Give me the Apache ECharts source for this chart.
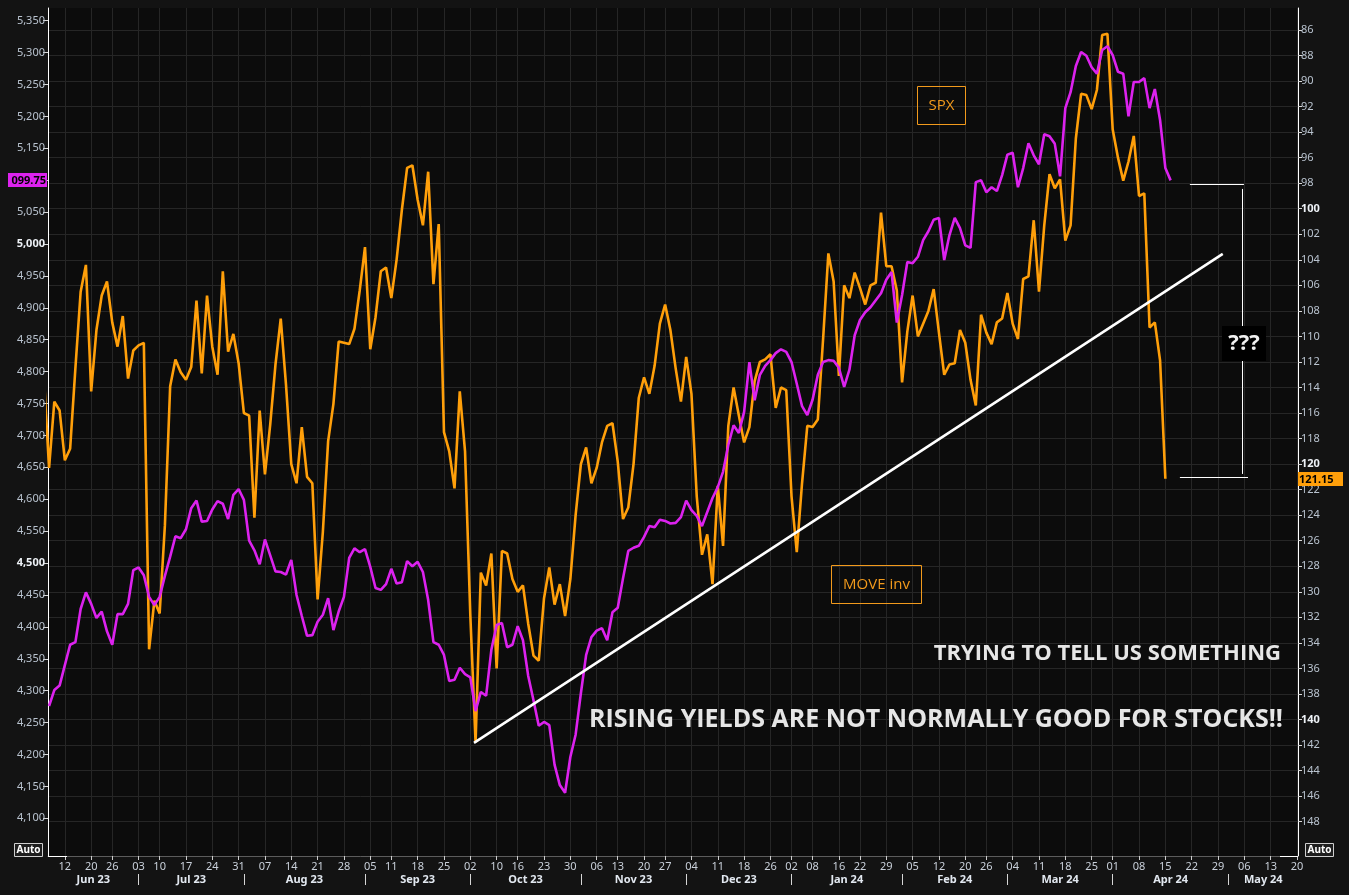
<!DOCTYPE html>
<html><head><meta charset="utf-8">
<script src="https://cdn.jsdelivr.net/npm/echarts@6/dist/echarts.min.js"></script>
<style>html,body{margin:0;padding:0;background:#131313;}#c{width:1349px;height:895px;}</style>
</head><body><div id="c"></div>
<script>
// ---- calendar (trading days, index 0 = 2023-06-06) ----
const startDate = [2023, 5, 6];
const endDate = [2024, 4, 21];
const holidays = ['2023-06-19','2023-07-04','2023-09-04','2023-10-09','2023-11-10','2023-11-23','2023-12-25','2024-01-01','2024-01-15','2024-02-19','2024-03-29'];
const monthNames = ['Jan','Feb','Mar','Apr','May','Jun','Jul','Aug','Sep','Oct','Nov','Dec'];

// ---- series values (by trading-day index) ----
const spx = [null,
4276,4301,4308,4340,4372,4376,4428,4454,4436,4414,
4424,4393,4372,4420,4420,4436,4489,4493,4481,4447,
4434,4447,4480,4510,4542,4539,4553,4586,4598,4565,
4566,4584,4597,4593,4569,4607,4616,4599,4535,4520,
4498,4537,4512,4487,4486,4482,4505,4450,4417,4386,
4387,4408,4419,4445,4395,4424,4447,4508,4523,4517,
4522,4494,4461,4458,4467,4491,4468,4470,4503,4495,
4502,4486,4442,4376,4372,4356,4315,4317,4336,4326,
4321,4268,4298,4292,4364,4403,4406,4368,4372,4401,
4379,4323,4285,4245,4251,4246,4184,4152,4140,4196,
4231,4296,4356,4384,4394,4398,4379,4423,4430,4476,
4519,4524,4527,4541,4558,4556,4568,4566,4562,4563,
4572,4598,4583,4574,4558,4580,4602,4619,4643,4685,
4716,4704,4737,4815,4755,4795,4809,4818,4829,4835,
4831,4815,4781,4746,4732,4756,4795,4815,4818,4817,
4806,4776,4803,4857,4881,4893,4901,4912,4923,4944,
4956,4877,4920,4972,4970,4980,5006,5020,5038,5041,
4975,5014,5041,5025,4998,4994,5097,5100,5081,5089,
5083,5108,5140,5143,5089,5119,5158,5139,5125,5172,
5169,5157,5106,5213,5238,5279,5301,5295,5277,5267,
5304,5310,5296,5270,5267,5200,5254,5254,5260,5213,
5243,5194,5119,5099.75];

const moveInv = [113.0,
120.3,115.1,115.8,119.7,118.8,112.5,106.5,104.4,114.3,109.5,
106.8,105.7,108.9,110.8,108.4,113.3,111.1,110.7,110.5,134.5,
130.7,131.7,124.8,113.9,111.8,112.8,113.4,112.4,107.2,112.9,
106.8,110.8,113.0,104.9,111.2,109.8,112.1,116.0,116.2,124.2,
115.8,120.8,116.9,112.2,108.6,113.8,120.0,121.5,117.1,121.0,
121.5,130.6,125.3,118.2,115.3,110.4,110.5,110.6,109.4,106.4,
103.0,111.0,108.5,104.9,104.6,107.0,104.0,100.1,96.8,96.6,
99.3,101.3,97.1,105.9,101.2,117.5,119.0,121.9,114.3,119.0,
131.8,141.8,128.5,129.5,127.0,136.0,126.8,127.0,129.0,130.0,
129.5,132.5,135.0,135.4,130.5,128.1,131.0,129.4,131.9,129.0,
124.0,120.0,118.7,121.5,120.3,118.3,117.0,116.8,119.8,124.3,
123.4,120.0,114.8,113.2,114.5,112.3,109.0,107.5,109.5,112.5,
115.1,111.6,114.5,122.5,127.1,125.5,129.4,121.7,126.4,117.0,
114.0,116.2,118.3,117.1,113.5,112.0,111.8,111.4,115.6,114.0,
114.2,122.5,126.9,121.5,117.0,117.1,116.5,110.2,103.5,105.7,
113.1,106.0,107.0,105.0,106.2,107.5,106.0,105.8,100.3,104.5,
104.5,106.4,113.6,109.6,106.8,110.0,109.0,108.0,106.3,109.7,
113.0,112.2,112.1,109.5,110.5,113.4,115.4,108.3,109.7,110.6,
108.9,108.6,106.6,109.0,110.2,105.5,105.3,100.9,106.5,101.3,
97.3,98.4,97.7,102.5,101.3,94.5,91.0,91.1,92.2,90.7,
86.4,86.3,93.8,96.0,97.8,96.3,94.3,99.0,98.8,109.3,
108.9,111.9,121.15];

// ---- axis tick values ----
const leftTicks = [4100,4150,4200,4250,4300,4350,4400,4450,4500,4550,4600,4650,4700,4750,4800,4850,4900,4950,5000,5050,5100,5150,5200,5250,5300,5350];
const leftBold = [4500, 5000];
const rightTicks = [86,88,90,92,94,96,98,100,102,104,106,108,110,112,114,116,118,120,122,124,126,128,130,132,134,136,138,140,142,144,146,148];
const rightBold = [100, 120, 140];

// ---- annotation lines (index, MOVE-axis value) ----
const trendLine = [[81.7, 141.83], [223.9, 103.54]];
const bracketTop = [[217.66, 98.08], [227.92, 98.08]];
const bracketV = [[227.6, 98.45], [227.6, 120.77]];
const bracketBottom = [[215.76, 121.0], [228.7, 121.0]];

const spxLastLabel = '099.75';
const moveLastLabel = '121.15';

// ---- build calendar ----
const hs = new Set(holidays);
const dates = [];
{
  let t = Date.UTC(startDate[0], startDate[1], startDate[2]);
  const end = Date.UTC(endDate[0], endDate[1], endDate[2]);
  while (t <= end) {
    const d = new Date(t);
    const wd = d.getUTCDay();
    const s = d.toISOString().slice(0, 10);
    if (wd > 0 && wd < 6 && !hs.has(s)) dates.push(s);
    t += 86400000;
  }
}
const xMin = 0.8, xMax = 238.19;
const dayNum = s => Math.floor(Date.UTC(+s.slice(0,4), +s.slice(5,7)-1, +s.slice(8,10)) / 86400000);
const weekTicks = [], monthStarts = [];
for (let i = 1; i < dates.length; i++) {
  if (Math.floor((dayNum(dates[i]) + 3) / 7) !== Math.floor((dayNum(dates[i-1]) + 3) / 7)) {
    if (i >= xMin && i <= xMax + 0.01) weekTicks.push(i);
  }
  if (dates[i].slice(5,7) !== dates[i-1].slice(5,7)) monthStarts.push(i);
}
const monthMids = [], monthLabelMap = {};
{
  const bounds = [xMin].concat(monthStarts.filter(v => v > xMin && v < xMax)).concat([xMax]);
  for (let k = 0; k < bounds.length - 1; k++) {
    const mid = (bounds[k] + bounds[k+1]) / 2;
    const refIdx = Math.ceil(bounds[k]);
    const s = dates[refIdx];
    monthMids.push(mid);
    monthLabelMap[mid.toFixed(3)] = monthNames[+s.slice(5,7)-1] + ' ' + s.slice(2,4);
  }
}

const spxData = [], moveData = [];
spx.forEach((v, i) => { if (v != null) spxData.push([i, v]); });
moveInv.forEach((v, i) => { if (v != null) moveData.push([i, v]); });

const FONT = 'Noto Sans';
const ORANGE = '#ff9f0a';
const PURPLE = '#dc22ee';
const chart = echarts.init(document.getElementById('c'));
chart.setOption({
  backgroundColor: '#131313',
  animation: false,
  grid: { left: 48, right: 51, top: 8, bottom: 39, show: true, backgroundColor: '#0c0c0c', borderWidth: 0 },
  xAxis: [
    { type: 'value', min: xMin, max: xMax, position: 'bottom',
      axisLine: { show: true, lineStyle: { color: '#5c5c5c', width: 1 } },
      axisTick: { show: true, customValues: weekTicks, length: 4, lineStyle: { color: '#cfcfcf' } },
      axisLabel: { customValues: weekTicks, formatter: v => dates[Math.round(v)].slice(8, 10), color: '#c9d0da', fontSize: 11, fontFamily: FONT, margin: 5 },
      splitLine: { show: true, lineStyle: { color: '#262626', width: 1 } } },
    { type: 'value', min: xMin, max: xMax, position: 'bottom', offset: 18,
      axisLine: { show: false },
      axisTick: { show: true, customValues: monthStarts.filter(v => v > xMin && v < xMax), length: 11, lineStyle: { color: '#d6d6d6' } },
      axisLabel: { show: false }, splitLine: { show: false } },
    { type: 'value', min: xMin, max: xMax, position: 'bottom', offset: 0,
      axisLine: { show: false }, axisTick: { show: false }, splitLine: { show: false },
      axisLabel: { customValues: monthMids, formatter: v => monthLabelMap[v.toFixed(3)] || '', color: '#e2e8f0', fontWeight: 'bold', fontSize: 11, fontFamily: FONT, margin: 18 } }
  ],
  yAxis: [
    { type: 'value', position: 'left', min: 4040.9, max: 5369.9,
      axisLine: { show: true, lineStyle: { color: '#ffffff', width: 1 } },
      axisTick: { show: true, customValues: leftTicks, length: 5, lineStyle: { color: '#d8d8d8' } },
      axisLabel: { customValues: leftTicks, margin: 3, color: '#b9c3cf', fontSize: 11, fontFamily: FONT,
        formatter: v => { const s = Math.round(v).toLocaleString('en-US'); return leftBold.indexOf(Math.round(v)) >= 0 ? '{b|' + s + '}' : s; },
        rich: { b: { fontWeight: 'bold', color: '#eef2f7', fontSize: 11, fontFamily: FONT } } },
      splitLine: { show: false } },
    { type: 'value', position: 'right', inverse: true, min: 84.28, max: 150.69,
      axisLine: { show: true, lineStyle: { color: '#ffffff', width: 1 } },
      axisTick: { show: true, customValues: rightTicks, length: 4, lineStyle: { color: '#d8d8d8' } },
      axisLabel: { customValues: rightTicks, margin: 3, color: '#b9c3cf', fontSize: 11, fontFamily: FONT,
        formatter: v => { const s = String(Math.round(v)); return rightBold.indexOf(Math.round(v)) >= 0 ? '{b|' + s + '}' : s; },
        rich: { b: { fontWeight: 'bold', color: '#eef2f7', fontSize: 11, fontFamily: FONT } } },
      splitLine: { show: true, lineStyle: { color: '#262626', width: 1 } } }
  ],
  series: [
    { name: 'MOVE inv', type: 'line', xAxisIndex: 0, yAxisIndex: 1, data: moveData, showSymbol: false, symbol: 'none',
      lineStyle: { color: ORANGE, width: 2.6 }, z: 3 },
    { name: 'SPX', type: 'line', xAxisIndex: 0, yAxisIndex: 0, data: spxData, showSymbol: false, symbol: 'none',
      lineStyle: { color: PURPLE, width: 2.6 }, z: 4 },
    { type: 'lines', coordinateSystem: 'cartesian2d', xAxisIndex: 0, yAxisIndex: 1, z: 5,
      lineStyle: { color: '#ffffff', width: 2.6, opacity: 1 }, data: [{ coords: trendLine }] },
    { type: 'lines', coordinateSystem: 'cartesian2d', xAxisIndex: 0, yAxisIndex: 1, z: 5,
      lineStyle: { color: '#ffffff', width: 1, opacity: 1 },
      data: [{ coords: bracketTop }, { coords: bracketV }, { coords: bracketBottom }] }
  ]
});

const ySpx = chart.convertToPixel({ yAxisIndex: 0 }, spx[spx.length - 1]);
const yMove = chart.convertToPixel({ yAxisIndex: 1 }, moveInv[moveInv.length - 1]);
let gid = 0;
const txt = (x, y, text, size, weight, color, align, family) => ({
  type: 'text', id: 't' + (gid++), x: x, y: y, silent: true, z: 100,
  style: { text: text, fontFamily: family || FONT, fontSize: size, fontWeight: weight, fill: color, align: align, verticalAlign: 'middle' } });
const box = (x, y, w, h, fill, stroke) => ({
  type: 'rect', id: 'r' + (gid++), z: 99, silent: true, shape: { x: x, y: y, width: w, height: h },
  style: { fill: fill, stroke: stroke || null, lineWidth: stroke ? 1 : 0 } });
chart.setOption({
  graphic: [
    box(8, Math.round(ySpx) - 7, 39, 14, PURPLE),
    txt(46, Math.round(ySpx) + 0.5, spxLastLabel, 11, 'bold', '#000', 'right'),
    box(1298, Math.round(yMove) - 7, 45, 14, ORANGE),
    txt(1299, Math.round(yMove) + 0.5, moveLastLabel, 11, 'bold', '#000', 'left'),
    box(917.5, 86.5, 48, 38, 'rgba(0,0,0,0)', '#f29a1c'),
    txt(941.5, 105.5, 'SPX', 15, 'normal', '#f29a1c', 'center', 'Open Sans'),
    box(831.5, 565.5, 90, 38, 'rgba(0,0,0,0)', '#f29a1c'),
    txt(876.5, 584.5, 'MOVE inv', 15, 'normal', '#f29a1c', 'center', 'Open Sans'),
    box(1222, 326, 44, 35, '#000000'),
    txt(1244, 344, '???', 22, 'bold', '#f0f0f0', 'center', 'Open Sans'),
    txt(1281, 654, 'TRYING TO TELL US SOMETHING', 22, 'bold', '#e6e6e6', 'right', 'Open Sans'),
    txt(1283, 720, 'RISING YIELDS ARE NOT NORMALLY GOOD FOR STOCKS!!', 25, 'bold', '#e6e6e6', 'right', 'Open Sans'),
    box(14.5, 843.5, 28, 13, '#1e1e1e', '#cfcfcf'),
    txt(28.5, 850.5, 'Auto', 10, 'bold', '#ffffff', 'center'),
    box(1305.5, 843.5, 28, 13, '#1e1e1e', '#cfcfcf'),
    txt(1319.5, 850.5, 'Auto', 10, 'bold', '#ffffff', 'center'),
    { type: 'line', id: 'l1', z: 100, silent: true, shape: { x1: 48, y1: 856.5, x2: 67, y2: 856.5 }, style: { stroke: '#ffffff', lineWidth: 1 } },
    { type: 'line', id: 'l2', z: 100, silent: true, shape: { x1: 1280, y1: 856.5, x2: 1298, y2: 856.5 }, style: { stroke: '#ffffff', lineWidth: 1 } }
  ]
});
</script></body></html>
